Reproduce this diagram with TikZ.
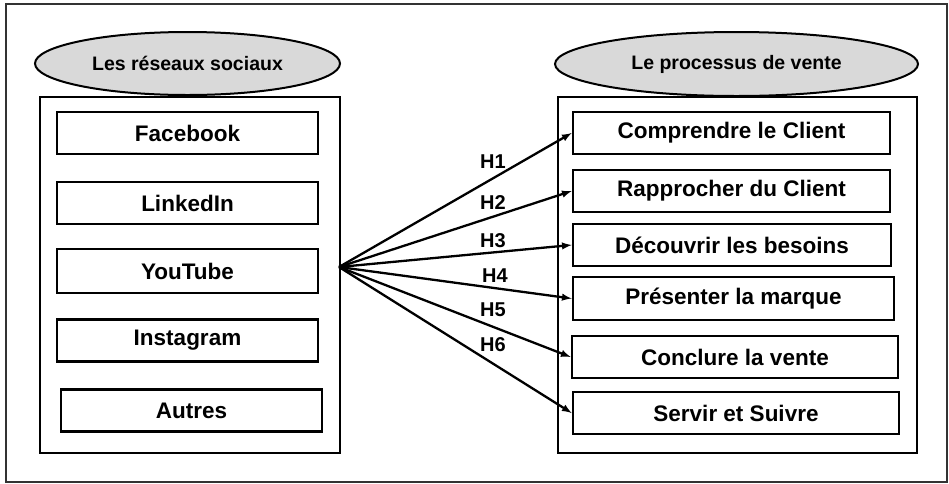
\documentclass[tikz,border=0pt]{standalone}
\usepackage{fontspec}
\setmainfont{Liberation Sans}
\usepackage{tikz}
\definecolor{gris300}{HTML}{D9D9D9}
\usetikzlibrary{arrows,shapes.geometric}
\tikzstyle{boite}=[draw=black, line width=2.6pt, minimum height=42pt, inner sep=0pt, font=\fontsize{22.5}{26}\selectfont\bfseries]
\tikzstyle{titre}=[ellipse, draw=black, line width=2pt, fill=gris300, inner sep=0pt, minimum height=63pt, font=\fontsize{19.5}{22}\selectfont\bfseries]
\tikzstyle{cadre}=[draw=black, line width=2pt, inner sep=0pt, minimum height=356pt]
\tikzstyle{fleche}=[-latex, line width=2.3pt]
\tikzstyle{etiquette}=[inner sep=0pt, font=\fontsize{20}{22}\selectfont\bfseries]

\begin{document}
\begin{tikzpicture}[x=1pt, y=-1pt]
		\useasboundingbox (0,0) rectangle (949,483);
		\draw[line width=2.4pt, draw=black!80] (6,4) rectangle (947,482);
		% les reseaux sociaux
		\node[cadre, minimum width=300pt](gauche) at (190,275) {};
		\node[titre, minimum width=305pt](reseaux) at (187.5,63.5) {Les réseaux sociaux};
		\node[boite, minimum width=261pt](facebook) at (187.5,133) {Facebook};
		\node[boite, minimum width=261pt](linkedin) at (187.5,203) {LinkedIn};
		\node[boite, minimum width=261pt, minimum height=44pt](youtube) at (187.5,271) {YouTube};
		\node[boite, minimum width=261pt](instagram) at (187.5,340.5) {Instagram};
		\node[boite, minimum width=261pt](autres) at (191.5,410.5) {Autres};
		% le processus de vente
		\node[cadre, minimum width=359pt](droite) at (737.5,275) {};
		\node[titre, minimum width=363pt, minimum height=64pt](processus) at (736.5,64) {Le processus de vente};
		\node[boite, minimum width=317pt](comprendre) at (731.5,133) {Comprendre le Client};
		\node[boite, minimum width=317pt](rapprocher) at (731.5,191) {Rapprocher du Client};
		\node[boite, minimum width=318pt](decouvrir) at (732,245) {Découvrir les besoins};
		\node[boite, minimum width=321pt, minimum height=43pt](presenter) at (733.5,298.5) {Présenter la marque};
		\node[boite, minimum width=326pt](conclure) at (735,357) {Conclure la vente};
		\node[boite, minimum width=326pt](servir) at (736,413) {Servir et Suivre};
		% hypotheses
		\coordinate (source) at (339,267);
		\path[draw, fleche] (source) -- (comprendre.west);
		\path[draw, fleche] (source) -- (rapprocher.west);
		\path[draw, fleche] (source) -- (decouvrir.west);
		\path[draw, fleche] (source) -- (presenter.west);
		\path[draw, fleche] (source) -- (conclure.west);
		\path[draw, fleche] (source) -- (servir.west);
		\node[etiquette](h1) at (493,162) {H1};
		\node[etiquette](h2) at (493,203) {H2};
		\node[etiquette](h3) at (493,241) {H3};
		\node[etiquette](h4) at (495,276) {H4};
		\node[etiquette](h5) at (493,310) {H5};
		\node[etiquette](h6) at (493,345) {H6};
	\end{tikzpicture}
\end{document}
